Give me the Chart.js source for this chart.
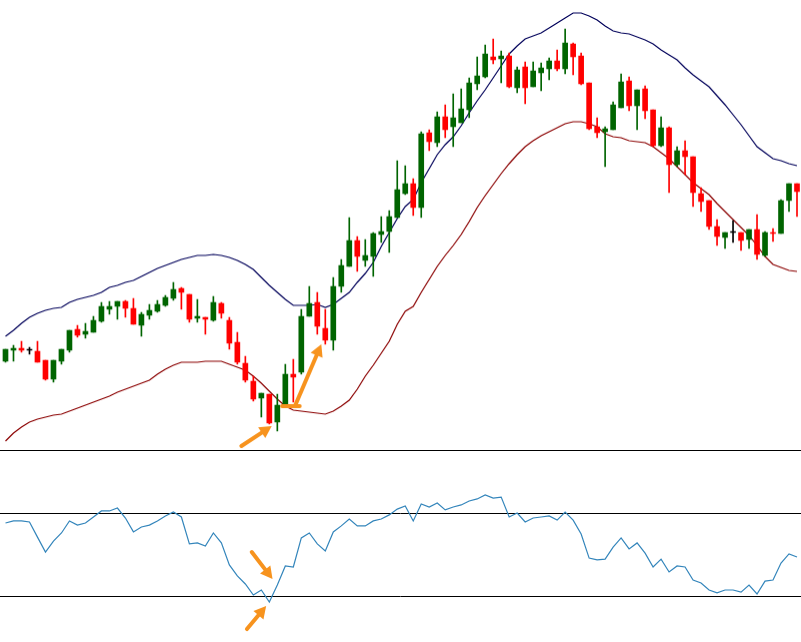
<!DOCTYPE html>
<html>
<head>
<meta charset="utf-8">
<script src="https://cdn.jsdelivr.net/npm/chart.js@4/dist/chart.umd.min.js"></script>
<style>
    body { margin: 0; background: #fff; }
    #wrap { width: 801px; height: 642px; }
    #price { display: block; border-bottom: 1px solid #000; }
    #rsi { display: block; }
</style>
</head>
<body>
<div id="wrap">
    <canvas id="price" width="801" height="451"></canvas>
    <canvas id="rsi" width="801" height="190"></canvas>
</div>
<script>
// Velas (OHLC)
const opens = [
    138, 149, 151, 149, 148, 139, 120, 138, 149, 170,
    165, 167, 178, 190, 193, 198, 191, 174, 184, 188,
    194, 201, 211, 205, 181, 182, 179, 196, 179, 157,
    136, 118, 101, 105, 77, 94, 125, 127, 183, 197,
    171, 159, 213, 233, 259, 239, 243, 265, 268, 282,
    306, 316, 292, 367, 357, 383, 373, 377, 390, 416,
    423, 443, 441, 444, 412, 433, 413, 427, 431, 439,
    431, 456, 444, 417, 373, 368, 370, 392, 419, 394,
    411, 390, 354, 372, 335, 349, 343, 306, 299, 273,
    262, 267, 267, 260, 270, 244, 267, 266, 299, 316
];
const highs = [
    150, 154, 158, 152, 158, 139, 139, 150, 169, 174,
    176, 183, 197, 198, 198, 199, 201, 187, 195, 199,
    204, 217, 212, 205, 200, 182, 203, 197, 182, 167,
    143, 123, 106, 105, 105, 135, 140, 190, 213, 207,
    190, 222, 240, 282, 263, 260, 267, 283, 289, 339,
    334, 321, 368, 370, 388, 395, 406, 411, 422, 443,
    455, 461, 449, 447, 433, 438, 438, 437, 442, 450,
    471, 457, 447, 417, 382, 373, 398, 426, 423, 410,
    414, 390, 383, 373, 353, 359, 343, 312, 299, 280,
    267, 279, 267, 270, 285, 268, 271, 300, 316, 316
];
const lows = [
    137, 138, 147, 145, 137, 119, 117, 135, 147, 162,
    161, 167, 177, 185, 180, 182, 175, 163, 180, 187,
    193, 199, 190, 177, 177, 165, 178, 181, 150, 135,
    117, 98, 82, 75, 68, 93, 97, 125, 183, 165,
    155, 149, 207, 233, 228, 233, 223, 257, 247, 282,
    305, 284, 282, 349, 353, 362, 353, 377, 382, 410,
    422, 436, 417, 412, 407, 396, 413, 409, 420, 429,
    426, 425, 415, 370, 362, 333, 370, 392, 389, 370,
    381, 353, 353, 307, 333, 325, 293, 288, 270, 254,
    251, 257, 249, 251, 240, 243, 258, 266, 288, 283
];
const closes = [
    150, 151, 149, 149, 137, 120, 139, 150, 169, 164,
    168, 179, 193, 193, 198, 191, 175, 185, 189, 195,
    202, 210, 207, 180, 183, 180, 197, 186, 156, 137,
    119, 100, 106, 76, 94, 125, 122, 183, 196, 173,
    159, 213, 234, 259, 243, 244, 266, 268, 283, 310,
    316, 292, 366, 358, 383, 370, 382, 391, 417, 424,
    446, 440, 444, 413, 430, 412, 429, 432, 439, 431,
    457, 443, 416, 371, 367, 371, 395, 418, 394, 410,
    389, 354, 372, 335, 349, 343, 307, 298, 273, 263,
    267, 267, 259, 270, 245, 267, 266, 299, 316, 308
];

// Bandas
const upperBand = [
    163, 169, 176, 182, 186, 189, 191, 192, 197, 200,
    202, 204, 207, 212, 214, 217, 219, 223, 227, 231,
    234, 237, 240, 242, 244, 244, 245, 244, 242, 239,
    235, 230, 222, 214, 207, 200, 194, 194, 194, 195,
    192, 195, 201, 207, 217, 226, 237, 253, 267, 281,
    293, 300, 317, 331, 345, 355, 363, 374, 387, 399,
    410, 422, 434, 446, 454, 461, 464, 467, 472, 477,
    482, 487, 487, 484, 480, 474, 469, 467, 466, 463,
    460, 456, 450, 445, 440, 432, 425, 419, 413, 404,
    395, 385, 375, 364, 353, 347, 341, 339, 336, 334
];
const lowerBand = [
    58, 66, 72, 77, 80, 82, 84, 85, 88, 91,
    94, 97, 100, 103, 107, 110, 113, 116, 119, 125,
    130, 134, 137, 137, 137, 138, 138, 138, 135, 132,
    129, 123, 116, 108, 100, 93, 89, 88, 87, 86,
    85, 88, 93, 99, 110, 123, 134, 146, 158, 175,
    188, 193, 207, 220, 233, 244, 254, 265, 278, 292,
    304, 315, 326, 336, 345, 353, 359, 364, 368, 372,
    376, 378, 378, 376, 373, 366, 363, 362, 359, 358,
    357, 353, 347, 341, 333, 325, 317, 311, 305, 296,
    288, 280, 272, 264, 254, 243, 235, 232, 229, 228
];

// RSI
const rsiValues = [
    65.3, 66.3, 66.3, 65.8, 58.5, 51.3, 56.6, 60.5, 66.3, 64.3,
    65.3, 68.2, 71.1, 71.1, 72.5, 67.7, 61.0, 63.4, 64.3, 66.3,
    68.7, 70.6, 68.2, 55.2, 55.7, 54.2, 60.5, 55.7, 45.1, 39.8,
    35.9, 30.6, 33.0, 27.2, 35.4, 44.6, 44.1, 58.1, 60.5, 55.2,
    51.8, 61.0, 63.9, 67.2, 63.9, 63.9, 66.3, 67.2, 69.2, 72.0,
    73.5, 66.3, 74.5, 73.0, 74.9, 71.6, 73.0, 74.0, 75.9, 76.9,
    78.8, 77.3, 77.8, 68.2, 70.1, 65.8, 67.7, 68.2, 68.7, 66.7,
    70.6, 66.7, 60.0, 48.4, 47.5, 47.9, 53.7, 58.1, 52.8, 55.7,
    50.8, 44.1, 47.9, 41.7, 44.6, 44.1, 37.8, 36.4, 33.0, 31.6,
    33.0, 33.0, 32.0, 35.4, 31.1, 37.3, 37.8, 46.0, 50.4, 48.9
];
const rsiLevels = [70, 30];

// Setas (indice da vela, valor)
const priceArrows = [
    { from: [29.5, 53], to: [33.3, 73], head: true },
    { from: [34.6, 93], to: [36.8, 93], head: false },
    { from: [36.2, 93], to: [39.5, 155], head: true }
];
const rsiArrows = [
    { from: [30.8, 51.3], to: [33.4, 38.3], head: true },
    { from: [30.2, 14.2], to: [32.6, 25.3], head: true }
];

const labels = opens.map((_, i) => i + 1);

function candleColor(i) {
    if (closes[i] > opens[i]) return "#006400";
    if (closes[i] < opens[i]) return "#ff0000";
    return "#000000";
}
const colors = labels.map((_, i) => candleColor(i));

const arrowPlugin = {
    id: "arrows",
    afterDatasetsDraw(chart, args, opts) {
        const { ctx, scales: { x, y } } = chart;
        ctx.save();
        ctx.strokeStyle = "#f7931e";
        ctx.fillStyle = "#f7931e";
        ctx.lineWidth = 4;
        ctx.lineCap = "round";
        (opts.items || []).forEach(a => {
            const x1 = x.getPixelForValue(a.from[0]), y1 = y.getPixelForValue(a.from[1]);
            const x2 = x.getPixelForValue(a.to[0]), y2 = y.getPixelForValue(a.to[1]);
            const ang = Math.atan2(y2 - y1, x2 - x1);
            const len = a.head ? 12 : 0;
            ctx.beginPath();
            ctx.moveTo(x1, y1);
            ctx.lineTo(x2 - len * 0.7 * Math.cos(ang), y2 - len * 0.7 * Math.sin(ang));
            ctx.stroke();
            if (a.head) {
                const bx = x2 - len * Math.cos(ang), by = y2 - len * Math.sin(ang);
                const px = -Math.sin(ang) * 6.5, py = Math.cos(ang) * 6.5;
                ctx.beginPath();
                ctx.moveTo(x2, y2);
                ctx.lineTo(bx + px, by + py);
                ctx.lineTo(bx - px, by - py);
                ctx.closePath();
                ctx.fill();
            }
        });
        ctx.restore();
    }
};

const levelsPlugin = {
    id: "levels",
    beforeDatasetsDraw(chart, args, opts) {
        const { ctx, scales: { y } } = chart;
        ctx.save();
        ctx.strokeStyle = "#000";
        ctx.lineWidth = 1;
        (opts.values || []).forEach(v => {
            const py = Math.round(y.getPixelForValue(v)) + 0.5;
            ctx.beginPath();
            ctx.moveTo(0, py);
            ctx.lineTo(chart.width, py);
            ctx.stroke();
        });
        ctx.restore();
    }
};

const hiddenX = { display: false, offset: true };

new Chart(document.getElementById("price"), {
    type: "bar",
    data: {
        labels,
        datasets: [
            {
                type: "line", data: upperBand, borderColor: "#00005a", borderWidth: 1.2,
                pointRadius: 0, fill: false, order: 3
            },
            {
                type: "line", data: lowerBand, borderColor: "#8b0000", borderWidth: 1.2,
                pointRadius: 0, fill: false, order: 3
            },
            {
                data: labels.map((_, i) => [lows[i], highs[i]]),
                backgroundColor: colors, barThickness: 1, grouped: false, order: 2
            },
            {
                data: labels.map((_, i) => [opens[i], closes[i]]),
                backgroundColor: colors, barThickness: 5, minBarLength: 1, grouped: false, order: 1
            }
        ]
    },
    options: {
        responsive: false,
        animation: false,
        layout: { padding: { left: 1.5, right: 0, top: 0, bottom: 0 } },
        scales: {
            x: hiddenX,
            y: { display: false, min: 49, max: 500 }
        },
        plugins: {
            legend: { display: false },
            tooltip: { enabled: false },
            arrows: { items: priceArrows }
        }
    },
    plugins: [arrowPlugin]
});

new Chart(document.getElementById("rsi"), {
    type: "line",
    data: {
        labels,
        datasets: [{
            data: rsiValues, borderColor: "#3385bb", borderWidth: 1.2,
            pointRadius: 0, fill: false, tension: 0
        }]
    },
    options: {
        responsive: false,
        animation: false,
        layout: { padding: { left: 1.5, right: 0, top: 0, bottom: 0 } },
        scales: {
            x: hiddenX,
            y: { display: false, min: 8.43, max: 100 }
        },
        plugins: {
            legend: { display: false },
            tooltip: { enabled: false },
            levels: { values: rsiLevels },
            arrows: { items: rsiArrows }
        }
    },
    plugins: [levelsPlugin, arrowPlugin]
});
</script>
</body>
</html>
